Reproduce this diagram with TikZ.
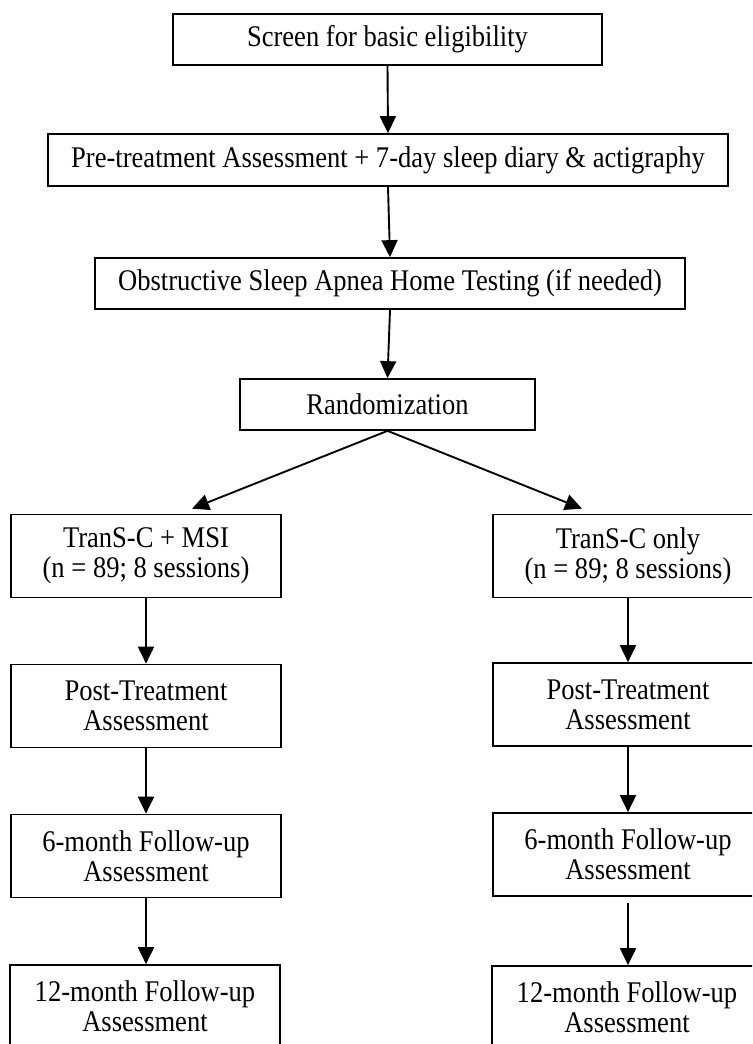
\documentclass[tikz,border=0pt]{standalone}
\usepackage{fontspec}
\setmainfont{Liberation Serif}[FakeStretch=0.885]
\usetikzlibrary{arrows.meta, positioning, calc}

\begin{document}
\begin{tikzpicture}[
    x=0.5pt, y=-0.5pt,
    stage/.style={draw, line width=0.85pt, minimum height=25.5pt, inner sep=2pt, align=center, font=\fontsize{15}{15}\selectfont},
    arm/.style={stage, minimum width=135pt, minimum height=41.5pt},
    arrow/.style={-{Triangle[length=8.5pt, width=8pt]}, line width=0.95pt},
    >=Triangle
]
\useasboundingbox (0,0) rectangle (752,1044);
\clip (0,0) rectangle (752,1044);

% Screening and baseline (centre)
\node[stage, minimum width=214.5pt] (screen) at (387.5, 39.5) {Screen for basic eligibility};
\node[stage, minimum width=340pt, minimum height=26pt] (pre) at (388, 160) {Pre-treatment Assessment + 7-day sleep diary \& actigraphy};
\node[stage, minimum width=295pt] (osa) at (390, 283.5) {Obstructive Sleep Apnea Home Testing (if needed)};
\node[stage, minimum width=147.5pt] (rand) at (387.5, 404.5) {Randomization};

% TranS-C + MSI arm (left)
\node[arm] (msiL) at (146, 556) {TranS-C + MSI\\(n = 89; 8 sessions)};
\node[arm] (postL) at (146, 706) {Post-Treatment\\Assessment};
\node[arm] (sixL) at (146, 856) {6-month Follow-up\\Assessment};
\node[arm] (twelveL) at (145, 1006.5) {12-month Follow-up\\Assessment};

% TranS-C only arm (right)
\node[arm] (msiR) at (628, 556) {TranS-C only\\(n = 89; 8 sessions)};
\node[arm] (postR) at (628, 704.5) {Post-Treatment\\Assessment};
\node[arm] (sixR) at (628, 854.5) {6-month Follow-up\\Assessment};
\node[arm] (twelveR) at (627, 1007.5) {12-month Follow-up\\Assessment};

% Arrows
\draw[arrow] (screen.south) -- (pre.north);
\draw[arrow] (pre.south) -- (osa.north);
\draw[arrow] (osa.south) -- (rand.north);
\draw[arrow] (rand.south) -- ([xshift=23pt, yshift=2.5pt] msiL.north);
\draw[arrow] (rand.south) -- ([xshift=-23pt, yshift=2.5pt] msiR.north);
\draw[arrow] (msiL.south) -- (postL.north);
\draw[arrow] (postL.south) -- (sixL.north);
\draw[arrow] (sixL.south) -- (sixL.south |- twelveL.north);
\draw[arrow] (msiR.south) -- (postR.north);
\draw[arrow] (postR.south) -- (sixR.north);
\draw[arrow, shorten <=3pt] (sixR.south) -- (sixR.south |- twelveR.north);

\end{tikzpicture}
\end{document}
